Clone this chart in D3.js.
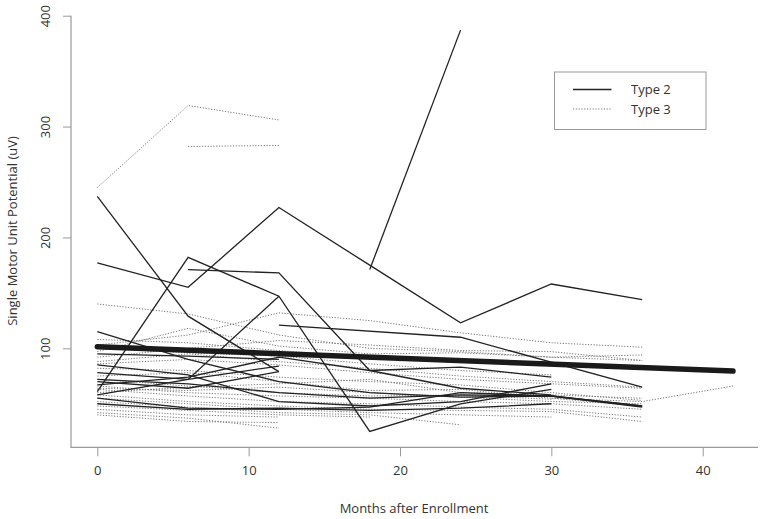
<!DOCTYPE html>
<html>
<head>
<meta charset="utf-8">
<script src="https://cdn.jsdelivr.net/npm/d3@7"></script>
<style>
  body { margin: 0; background: #fff; }
  text { font-family: "Open Sans", "Noto Sans", sans-serif; fill: #333; }
</style>
</head>
<body>
<svg width="768" height="519"></svg>
<script>
// months measured and potentials (uV), one array per subject
var type2 = [
  [[0,177],[6,155],[12,227],[18,175],[24,123],[30,158],[36,144]],
  [[18,171],[24,387]],
  [[0,61],[6,182],[12,147],[18,25],[24,50],[30,63]],
  [[6,171],[12,168],[18,80],[24,83],[30,74]],
  [[0,237],[6,129],[12,79]],
  [[12,121],[24,110],[36,65]],
  [[0,115],[6,90],[12,70],[18,60],[24,56],[30,57],[36,48]],
  [[0,85],[6,76],[12,52],[18,48],[24,52],[30,68]],
  [[0,78],[6,72],[12,84]],
  [[0,70],[6,64],[12,79]],
  [[0,58],[6,72],[12,147]],
  [[0,55],[6,46],[12,45],[18,47],[24,60],[30,57],[36,47]],
  [[0,50],[6,45],[12,46],[18,44],[24,46],[30,50]],
  [[0,67],[6,74],[12,92],[18,80],[24,64],[30,58]],
  [[0,95],[6,93],[12,90]],
  [[0,72],[6,68],[12,60],[18,55],[24,58],[30,57],[36,48]]
];

var type3 = [
  [[0,245],[6,319],[12,306]],
  [[6,282],[12,283]],
  [[0,140],[6,131],[12,112],[18,100],[24,97],[30,92],[36,89]],
  [[0,97],[6,118],[12,102],[18,95],[24,96],[30,92],[36,94]],
  [[0,103],[6,112],[12,132],[18,125],[24,114],[30,105],[36,101]],
  [[0,92],[6,100],[12,107],[18,103],[24,98],[30,97],[36,89]],
  [[0,88],[6,95],[12,88],[18,82],[24,75],[30,70],[36,65]],
  [[0,82],[6,80],[12,74],[18,70],[24,67],[30,60],[36,53]],
  [[0,75],[6,78],[12,70],[18,62],[24,63],[30,55],[36,48]],
  [[0,72],[6,66],[12,60],[18,57],[24,58],[30,54]],
  [[0,66],[6,60],[12,57],[18,55],[24,52],[30,50],[36,45]],
  [[0,63],[6,57],[12,52],[18,50],[24,47],[30,45],[36,38]],
  [[0,58],[6,52],[12,48],[18,45],[24,44],[30,43],[36,34]],
  [[0,55],[6,50],[12,45],[18,42],[24,40],[30,38]],
  [[0,52],[6,47],[12,42],[18,40],[24,31]],
  [[0,48],[6,44],[12,40],[18,38]],
  [[0,45],[6,40],[12,38]],
  [[0,42],[6,37],[12,28]],
  [[0,40],[6,34],[12,33]],
  [[0,60],[6,65],[12,68],[18,72],[24,60],[30,58],[36,55]],
  [[30,55],[36,52],[42,66]],
  [[0,108],[6,105],[12,98],[18,92],[24,88],[30,85],[36,83]],
  [[0,86],[6,90],[12,85],[18,78],[24,72],[30,68],[36,64]],
  [[0,100],[6,96],[12,93],[18,86],[24,80],[30,76]],
  [[0,64],[6,62],[12,65],[18,60],[24,56],[30,52],[36,50]]
];

var fitLine = [[0,101.5],[42,79.5]];

var xTicks = [0,10,20,30,40],
    yTicks = [100,200,300,400];

var svg = d3.select('svg');

var x = d3.scaleLinear().domain([0,40]).range([97.3,702.7]),
    y = d3.scaleLinear().domain([0,400]).range([459.2,15.7]);

var line = d3.line().x(d => x(d[0])).y(d => y(d[1]));

var plot = svg.append('g');

plot.selectAll('.t3')
    .data(type3)
    .enter()
    .append('path')
    .attr('class','t3')
    .attr('d', line)
    .attr('fill','none')
    .attr('stroke','#777')
    .attr('stroke-width',1)
    .attr('stroke-dasharray','1.2,1.6')

plot.selectAll('.t2')
    .data(type2)
    .enter()
    .append('path')
    .attr('class','t2')
    .attr('d', line)
    .attr('fill','none')
    .attr('stroke','#222')
    .attr('stroke-width',1.3)

plot.append('path')
    .datum(fitLine)
    .attr('d', line)
    .attr('fill','none')
    .attr('stroke','#1a1a1a')
    .attr('stroke-width',5.5)
    .attr('stroke-linecap','round')

// axes
var xAxis = svg.append('g')
    .attr('transform','translate(0,447.3)')
    .call(d3.axisBottom(x).tickValues(xTicks).tickSize(9).tickPadding(9).tickSizeOuter(0))
xAxis.select('.domain').remove();

var yAxis = svg.append('g')
    .attr('transform','translate(71,0)')
    .call(d3.axisLeft(y).tickValues(yTicks).tickSize(8).tickSizeOuter(0))
yAxis.select('.domain').remove();

svg.selectAll('.tick line').attr('stroke','#999');
svg.selectAll('.tick text').style('font-size','13px').attr('fill','#333');

// rotated y labels, centred about 26px left of the axis
yAxis.selectAll('.tick text')
    .attr('transform','rotate(-90)')
    .attr('x', 0)
    .attr('y', -26)
    .attr('dy','0.35em')
    .attr('text-anchor','middle')

// L-shaped frame
svg.append('path')
    .attr('d','M71,15.7V447.3H758')
    .attr('fill','none')
    .attr('stroke','#999')
    .attr('stroke-width',1.2)

svg.append('text')
    .attr('x',414)
    .attr('y',513)
    .attr('text-anchor','middle')
    .style('font-size','13px')
    .text('Months after Enrollment')

svg.append('text')
    .attr('transform','translate(17,231)rotate(-90)')
    .attr('text-anchor','middle')
    .style('font-size','13px')
    .text('Single Motor Unit Potential (uV)')

// legend
var legend = svg.append('g');
legend.append('rect')
    .attr('x',554.5).attr('y',72)
    .attr('width',151.5).attr('height',57.5)
    .attr('fill','#fff')
    .attr('stroke','#999')
    .attr('stroke-width',1)

var legendItems = [['Type 2','#222',null,1.3],['Type 3','#777','1.2,1.6',1]];
legend.selectAll('.li')
    .data(legendItems)
    .enter()
    .append('g')
    .attr('class','li')
    .attr('transform',(d,i) => 'translate(0,' + (89.5 + i*19.5) + ')')
    .each(function(d){
        var g = d3.select(this);
        g.append('line')
            .attr('x1',573).attr('x2',611.5)
            .attr('stroke',d[1])
            .attr('stroke-width',d[3])
            .attr('stroke-dasharray',d[2])
        g.append('text')
            .attr('x',631).attr('dy','0.35em')
            .style('font-size','13px')
            .text(d[0])
    })
</script>
</body>
</html>
